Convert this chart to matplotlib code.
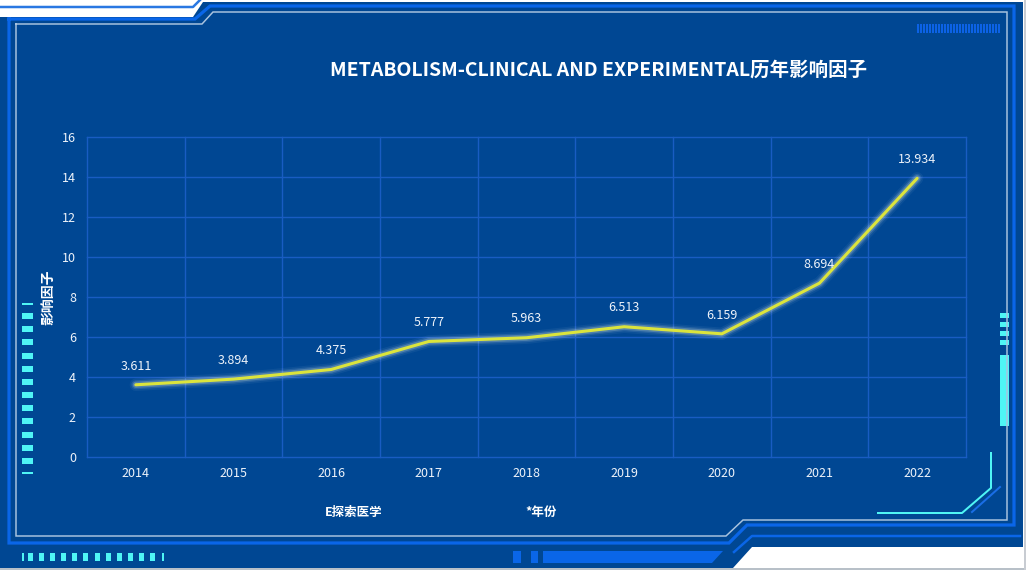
import matplotlib
matplotlib.use("Agg")
import matplotlib.pyplot as plt
from matplotlib import patheffects as pe
from matplotlib.patches import Polygon, Rectangle
import numpy as np

plt.rcParams['font.family'] = ['Noto Sans CJK SC', 'DejaVu Sans']

# ---------------- data ----------------
years = ['2014', '2015', '2016', '2017', '2018', '2019', '2020', '2021', '2022']
impact = [3.611, 3.894, 4.375, 5.777, 5.963, 6.513, 6.159, 8.694, 13.934]
y_ticks = [0, 2, 4, 6, 8, 10, 12, 14, 16]
title = 'METABOLISM-CLINICAL AND EXPERIMENTAL历年影响因子'
y_label = '影响因子'
brand = 'E探索医学'
x_label = '*年份'

W, H = 1026, 570
BG = '#004793'
GRID = '#195cc2'
BLUE = '#0a66e8'
GRAYLINE = '#a9c3df'
CYAN = '#4ff5f5'
TXT = '#eef3fa'

fig = plt.figure(figsize=(W / 100, H / 100), dpi=100, facecolor='white')

# ---------------- decorative frame (pixel coordinates) ----------------
deco = fig.add_axes([0, 0, 1, 1], zorder=0)
deco.set_xlim(0, W)
deco.set_ylim(H, 0)
deco.axis('off')

def px(v):
    return v * 0.72  # pixels -> points

# main dark fill
deco.add_patch(Polygon([(0, 17), (193, 17), (203, 2), (1023, 2), (1023, 547),
                        (752, 547), (733, 568), (0, 568)],
                       closed=True, facecolor=BG, edgecolor='none'))
# outer light border lines
deco.plot([0, 1026], [569, 569], color='#b8c0c8', lw=px(2))
deco.plot([1025, 1025], [0, 570], color='#c8ccd2', lw=px(2))
# top-left blue line in white area
deco.plot([0, 193, 200], [7, 7, 0], color='#2a78e2', lw=px(2.5))

# bright blue frame line
deco.plot([9, 9, 729, 747, 1014, 1014, 210, 195, 9],
          [19, 543, 543, 525, 525, 6, 6, 19, 19],
          color=BLUE, lw=px(3.2), solid_joinstyle='miter')
# gray-white frame line
deco.plot([16, 16, 726, 743, 1007, 1007, 213, 202, 16],
          [24, 536, 536, 520, 520, 12, 12, 24, 24],
          color=GRAYLINE, lw=px(1.5), solid_joinstyle='miter')
# second blue line bottom right
deco.plot([734, 752, 1020], [552, 536, 536], color=BLUE, lw=px(2.5))

# left cyan vertical dashes
deco.add_patch(Rectangle((22, 303), 11, 2, color=CYAN, lw=0))
for yc in np.linspace(316, 461, 12):
    deco.add_patch(Rectangle((22, yc - 3), 11, 6, color=CYAN, lw=0))
deco.add_patch(Rectangle((22, 471.5), 11, 2, color=CYAN, lw=0))

# bottom cyan dashes
deco.add_patch(Rectangle((22, 553), 2, 8, color=CYAN, lw=0))
for xc in np.linspace(30, 152, 12):
    deco.add_patch(Rectangle((xc - 2, 553), 5, 8, color=CYAN, lw=0))
deco.add_patch(Rectangle((162, 553), 2, 8, color=CYAN, lw=0))

# right cyan blocks
for y0 in [313, 322, 331, 340]:
    deco.add_patch(Rectangle((1000, y0), 9, 5, color=CYAN, lw=0))
deco.add_patch(Rectangle((1000, 355), 9, 71, color=CYAN, lw=0))

# bottom-right cyan bracket and blue diagonal
deco.plot([991, 991, 962, 878], [453, 488, 513, 513], color=CYAN, lw=px(2))
deco.plot([1000, 972], [487, 512], color='#1a6ee6', lw=px(2))

# top-right blue stripes
for xs in np.arange(917, 999, 3):
    deco.add_patch(Rectangle((xs, 24), 2, 9, color='#0c62e6', lw=0))

# bottom centre blue blocks
deco.add_patch(Rectangle((513, 551), 8, 12, color=BLUE, lw=0))
deco.add_patch(Rectangle((531, 551), 7, 12, color=BLUE, lw=0))
deco.add_patch(Polygon([(543, 551), (723, 551), (712, 563), (543, 563)],
                       closed=True, color=BLUE, lw=0))

# titles / captions
deco.text(599, 70, title, color='white', fontsize=14, fontweight='bold',
          ha='center', va='center')
deco.text(325, 512, brand, color='white', fontsize=9, fontweight='bold',
          ha='left', va='center')
deco.text(525, 512, x_label, color='white', fontsize=9, fontweight='bold',
          ha='left', va='center')

# ---------------- main chart ----------------
L, R, T, B = 87, 966, 137, 457
ax = fig.add_axes([L / W, 1 - B / H, (R - L) / W, (B - T) / H], zorder=2)
ax.set_facecolor('none')
x = np.arange(len(years))
ax.set_xlim(-0.5, len(years) - 0.5)
ax.set_ylim(0, 16)
ax.set_yticks(y_ticks)
ax.set_xticks(x)
ax.set_xticklabels(years)
ax.set_xticks(np.arange(-0.5, len(years), 1), minor=True)
for s in ax.spines.values():
    s.set_visible(False)
ax.grid(axis='y', which='major', color=GRID, lw=1, clip_on=False)
ax.grid(axis='x', which='minor', color=GRID, lw=1, clip_on=False)
ax.grid(axis='x', which='major', visible=False)
ax.tick_params(axis='both', which='both', length=0, colors=TXT, labelsize=9)
ax.tick_params(axis='y', pad=8)
ax.tick_params(axis='x', pad=7)
ax.set_axisbelow(True)

ax.plot(x, impact, color='#dbe43c', lw=2.2, solid_capstyle='round',
        solid_joinstyle='round', zorder=3,
        path_effects=[pe.Stroke(linewidth=9, foreground='#ffffff', alpha=0.05),
                      pe.Stroke(linewidth=6.5, foreground='#ffffff', alpha=0.10),
                      pe.Stroke(linewidth=4.5, foreground='#eef6d0', alpha=0.22),
                      pe.Normal()])
for xi, v in zip(x, impact):
    ax.annotate(f'{v:.3f}', (xi, v), xytext=(0, 13.5), textcoords='offset points',
                ha='center', va='center', color=TXT, fontsize=9, zorder=4)

ax.set_ylabel(y_label, color='white', fontsize=10, fontweight='bold')
ax.yaxis.set_label_coords(-0.0364, 0.5)

fig.savefig('out.png', dpi=100, facecolor='white')
